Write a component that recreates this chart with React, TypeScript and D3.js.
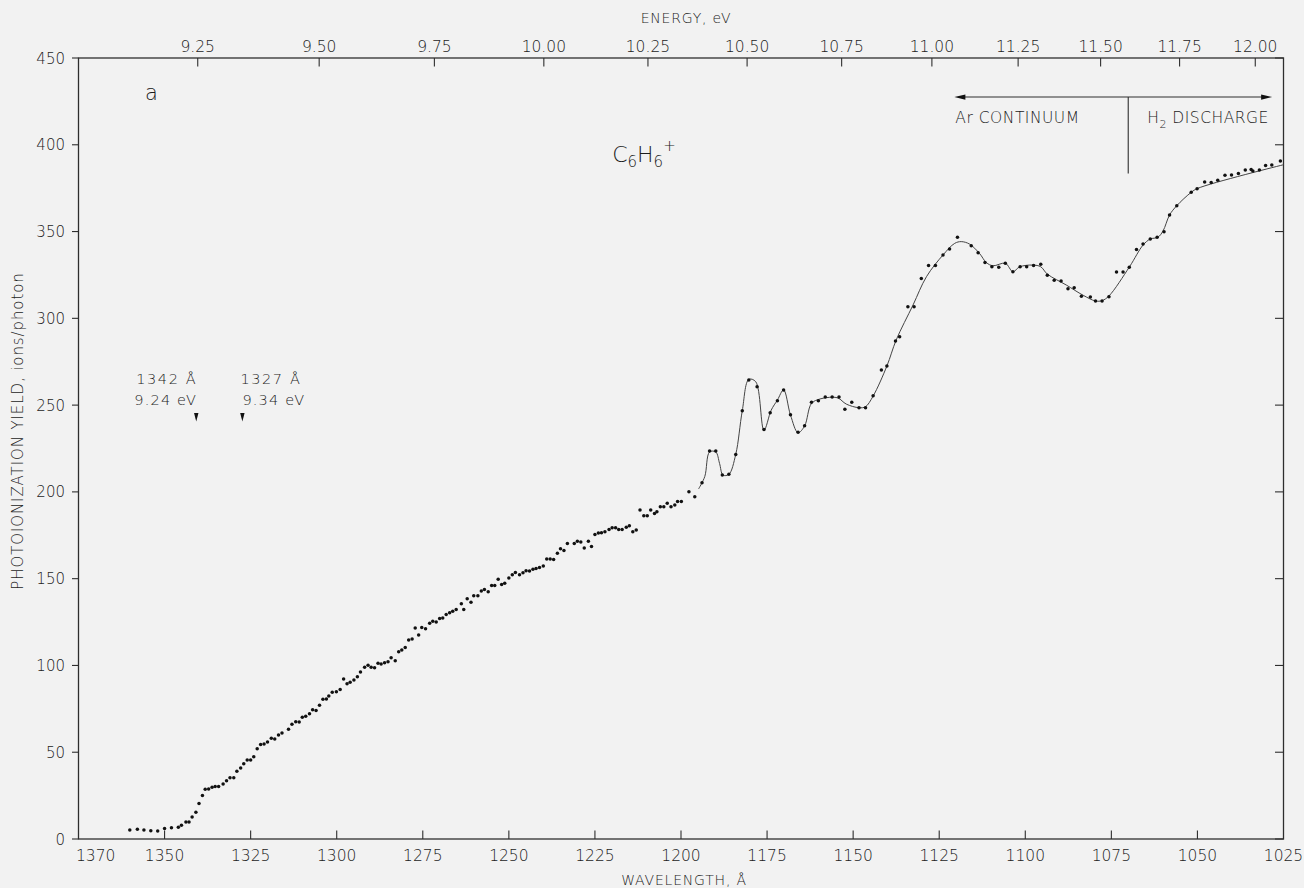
import React from 'react';
import * as d3 from 'd3';

const W = 1304;
const H = 888;
const HC = 12398.4; // eV·Å

const wavelengthLabels = [1370, 1350, 1325, 1300, 1275, 1250, 1225, 1200, 1175, 1150, 1125, 1100, 1075, 1050, 1025];
const wavelengthTicks = [1350, 1325, 1300, 1275, 1250, 1225, 1200, 1175, 1150, 1125, 1100, 1075, 1050];
const yieldTicks = [0, 50, 100, 150, 200, 250, 300, 350, 400, 450];
const energyTicks = [9.25, 9.5, 9.75, 10.0, 10.25, 10.5, 10.75, 11.0, 11.25, 11.5, 11.75, 12.0];

// measured points: [wavelength Å, ions/photon]
const dots: [number, number][] = [
  [1360.1, 5.2], [1357.9, 5.6], [1356.0, 5.2], [1354.0, 4.8], [1352.0, 4.6], [1350.0, 6.0], [1348.0, 6.5],
  [1346.0, 6.7], [1345.1, 7.9], [1343.8, 9.8], [1342.9, 9.8], [1342.0, 12.7], [1340.9, 15.4], [1340.0, 20.4],
  [1339.0, 25.0], [1338.2, 28.6], [1337.2, 28.8], [1336.2, 29.8], [1335.3, 30.2], [1334.3, 30.3], [1333.0, 31.7],
  [1332.0, 33.6], [1331.0, 35.3], [1329.9, 35.3], [1329.0, 39.0], [1327.9, 40.9], [1327.0, 43.4], [1326.0, 45.5],
  [1325.0, 45.5], [1324.1, 47.4], [1323.1, 52.0], [1322.1, 54.5], [1321.1, 54.7], [1320.1, 55.9], [1319.0, 58.0],
  [1318.0, 57.6], [1316.9, 59.9], [1315.9, 61.1], [1314.0, 63.2], [1313.0, 66.1], [1311.9, 67.6], [1310.9, 67.4],
  [1310.0, 70.1], [1309.0, 70.7], [1307.9, 72.2], [1307.0, 74.5], [1306.0, 74.1], [1305.0, 77.0], [1304.0, 80.5],
  [1303.0, 80.7], [1302.3, 82.4], [1301.3, 84.5], [1300.1, 84.9], [1299.0, 86.2], [1298.0, 92.2], [1297.0, 89.5],
  [1296.1, 90.3], [1295.0, 91.6], [1294.0, 93.5], [1293.1, 96.2], [1291.9, 98.9], [1290.9, 100.1], [1290.0, 98.9],
  [1289.0, 98.7], [1288.0, 101.2], [1287.1, 100.8], [1286.1, 101.6], [1285.1, 102.2], [1284.2, 104.5], [1283.0, 102.7],
  [1282.0, 107.9], [1281.1, 108.9], [1280.1, 110.4], [1279.1, 114.7], [1278.1, 115.2], [1277.2, 121.6], [1276.2, 117.5],
  [1275.3, 121.8], [1274.2, 121.2], [1273.0, 124.3], [1272.1, 125.4], [1271.1, 125.0], [1270.1, 127.1], [1269.2, 127.3],
  [1268.2, 129.4], [1267.2, 130.4], [1266.3, 131.2], [1265.3, 132.3], [1263.8, 135.6], [1263.1, 132.3], [1262.1, 138.5],
  [1261.0, 136.4], [1260.2, 140.2], [1259.0, 140.2], [1258.0, 142.9], [1257.1, 143.8], [1256.0, 142.5], [1255.0, 146.0],
  [1254.1, 146.1], [1253.1, 149.6], [1252.1, 146.7], [1251.2, 147.3], [1250.0, 150.4], [1249.0, 152.3], [1248.1, 153.6],
  [1246.9, 152.3], [1245.9, 153.4], [1245.0, 154.6], [1244.0, 154.4], [1243.0, 155.4], [1242.1, 155.9], [1241.1, 156.5],
  [1240.0, 157.3], [1239.0, 161.3], [1238.0, 161.3], [1237.0, 161.1], [1235.9, 164.6], [1235.0, 167.3], [1234.0, 166.3],
  [1233.0, 170.3], [1231.0, 170.3], [1230.1, 171.5], [1229.1, 171.1], [1228.1, 167.7], [1226.9, 171.5], [1226.0, 168.6],
  [1225.0, 175.5], [1224.0, 176.3], [1223.1, 176.5], [1222.1, 177.1], [1220.9, 178.4], [1220.0, 179.4], [1219.0, 179.4],
  [1218.1, 178.4], [1217.1, 178.4], [1215.9, 179.6], [1215.0, 180.5], [1214.0, 177.1], [1213.0, 178.0], [1211.9, 189.6],
  [1210.8, 186.3], [1209.8, 186.3], [1208.8, 189.6], [1207.7, 187.6], [1207.0, 188.6], [1206.0, 191.5], [1205.0, 191.5],
  [1204.0, 193.4], [1202.9, 191.5], [1201.8, 192.4], [1201.0, 194.4], [1199.9, 194.4], [1197.7, 200.1], [1196.0, 197.2],
  [1193.9, 205.3], [1191.7, 223.5], [1189.9, 223.5], [1188.0, 209.7], [1186.1, 210.1], [1184.1, 221.6], [1182.2, 246.8],
  [1180.3, 264.5], [1177.9, 260.6], [1175.9, 236.0], [1174.1, 245.6], [1172.0, 252.5], [1170.2, 258.7], [1168.2, 244.5],
  [1166.0, 234.3], [1164.1, 238.1], [1162.1, 251.6], [1160.1, 252.5], [1158.1, 254.7], [1156.1, 254.7], [1154.1, 254.7],
  [1152.4, 247.6], [1150.4, 251.6], [1148.3, 248.5], [1146.4, 248.5], [1144.2, 255.4], [1141.8, 270.2], [1140.2, 272.5],
  [1137.7, 286.9], [1136.5, 289.4], [1134.1, 306.7], [1132.3, 306.7], [1130.2, 323.0], [1128.1, 330.5], [1126.1, 330.5],
  [1123.9, 336.5], [1122.0, 339.9], [1119.7, 346.7], [1115.7, 341.8], [1113.7, 337.8], [1111.7, 332.1], [1109.7, 329.7],
  [1107.7, 329.5], [1105.8, 331.7], [1103.6, 326.9], [1101.5, 329.7], [1099.6, 329.7], [1097.6, 330.5], [1095.5, 331.1],
  [1093.6, 324.8], [1091.6, 321.9], [1089.6, 321.5], [1087.6, 317.1], [1085.8, 317.6], [1083.7, 312.7], [1081.1, 312.3],
  [1079.6, 310.0], [1077.7, 310.0], [1075.7, 312.5], [1073.5, 326.7], [1071.6, 326.7], [1069.8, 329.4], [1067.7, 339.7],
  [1065.8, 342.8], [1063.7, 345.7], [1061.7, 346.7], [1059.7, 349.9], [1058.1, 359.5], [1056.0, 364.9], [1051.8, 372.6],
  [1050.1, 374.7], [1047.9, 378.5], [1046.0, 378.3], [1044.1, 379.5], [1042.0, 382.4], [1040.1, 382.6], [1038.1, 383.5],
  [1036.1, 385.4], [1034.4, 385.8], [1033.9, 384.9], [1032.0, 385.4], [1030.2, 388.1], [1028.4, 388.3], [1025.9, 390.6],
];

// smooth hand-drawn curve through the structured region
const curve: [number, number][] = [
  [1194.9, 201.7], [1193.1, 208.8], [1191.7, 223.0], [1189.9, 223.0], [1188.8, 216.4], [1187.8, 209.7], [1186.1, 210.1],
  [1184.1, 221.6], [1182.2, 246.8], [1180.3, 264.8], [1178.3, 263.5], [1175.9, 235.6], [1173.8, 247.1], [1172.0, 252.9],
  [1170.2, 258.7], [1168.2, 244.3], [1166.0, 234.1], [1164.1, 238.0], [1162.1, 251.0], [1159.7, 253.5], [1156.8, 254.5],
  [1154.4, 254.1], [1152.0, 250.6], [1148.3, 248.5], [1146.4, 249.1], [1144.2, 255.2], [1140.2, 272.5], [1137.5, 287.5],
  [1132.6, 307.7], [1128.7, 324.0], [1123.9, 336.5], [1120.5, 343.2], [1118.6, 344.2], [1116.2, 342.8], [1113.3, 337.4],
  [1111.3, 332.1], [1109.4, 330.3], [1105.8, 331.7], [1103.6, 326.9], [1101.6, 329.7], [1097.8, 330.7], [1095.5, 329.7],
  [1093.6, 325.5], [1088.1, 319.2], [1083.2, 313.3], [1079.6, 310.0], [1077.7, 310.2], [1075.7, 312.9], [1069.7, 329.8],
  [1065.8, 342.2], [1063.7, 345.7], [1061.5, 346.7], [1060.0, 350.3], [1058.1, 359.5], [1056.0, 364.9], [1051.8, 372.6],
  [1049.9, 374.9], [1025.0, 388.5],
];

// threshold markers: position, labels as printed
const thresholdWavelengths = [1340.8, 1327.4];
const thresholdAngstromLabels = ['1342 Å', '1327 Å'];
const thresholdEnergyLabels = ['9.24 eV', '9.34 eV'];
const thresholdMarkerTop = 245.5;
const thresholdMarkerTip = 240.5;

// light source ranges
const sourceArrowSpan = [1120.6, 1028.3];
const sourceDivider = 1070.1;
const sourceArrowLevel = 427.5;
const sourceDividerBottom = 383.5;

const FONT = '"DejaVu Sans", "Liberation Sans", sans-serif';
const INK = '#2e2e2e';
const TXT = '#1c1c1c';

export default function App() {
  const left = 78.5, right = 1283.5, top = 58, bottom = 839;
  const x = d3.scaleLinear().domain([1375, 1025]).range([left, right]);
  const y = d3.scaleLinear().domain([0, 450]).range([bottom, top]);
  const fmtE = d3.format('.2f');

  const line = d3
    .line<[number, number]>()
    .x((d) => x(d[0]))
    .y((d) => y(d[1]))
    .curve(d3.curveCatmullRom.alpha(0.5));

  const ay = y(sourceArrowLevel);
  const ax0 = x(sourceArrowSpan[0]);
  const ax1 = x(sourceArrowSpan[1]);
  const dvx = x(sourceDivider);

  return (
    <svg
      width={W}
      height={H}
      viewBox={`0 0 ${W} ${H}`}
      style={{ position: 'absolute', left: 0, top: 0, display: 'block' }}
      fontFamily={FONT}
      fontWeight={300}
    >
      <rect x={0} y={0} width={W} height={H} fill="#f2f2f2" />

      {/* frame */}
      <rect x={left} y={top} width={right - left} height={bottom - top} fill="none" stroke={INK} strokeWidth={1.3} />

      {/* bottom axis */}
      {wavelengthTicks.map((t) => (
        <line key={'bt' + t} x1={x(t)} x2={x(t)} y1={bottom} y2={bottom - 8.5} stroke={INK} strokeWidth={1.1} />
      ))}
      {wavelengthLabels.map((t) => (
        <text key={'bl' + t} x={x(t)} y={861} textAnchor="middle" fontSize={15.5} fill={TXT}>
          {t}
        </text>
      ))}
      <text x={684} y={885} textAnchor="middle" fontSize={14} fill={TXT} letterSpacing={0.8}>
        WAVELENGTH, Å
      </text>

      {/* top axis (energy) */}
      {energyTicks.map((e) => (
        <line key={'tt' + e} x1={x(HC / e)} x2={x(HC / e)} y1={top} y2={top + 8.5} stroke={INK} strokeWidth={1.1} />
      ))}
      {energyTicks.map((e) => (
        <text key={'tl' + e} x={x(HC / e)} y={51.5} textAnchor="middle" fontSize={15.5} fill={TXT}>
          {fmtE(e)}
        </text>
      ))}
      <text x={686} y={23} textAnchor="middle" fontSize={14} fill={TXT} letterSpacing={0.8}>
        ENERGY, eV
      </text>

      {/* left & right axis ticks */}
      {yieldTicks.map((t) => (
        <g key={'yl' + t}>
          <line x1={left - 6.5} x2={left} y1={y(t)} y2={y(t)} stroke={INK} strokeWidth={1.1} />
          <line x1={right} x2={right - 8.5} y1={y(t)} y2={y(t)} stroke={INK} strokeWidth={1.1} />
          <text x={65} y={y(t) + 5.5} textAnchor="end" fontSize={15} fill={TXT}>
            {t}
          </text>
        </g>
      ))}
      <text
        transform={`translate(23, 431) rotate(-90)`}
        textAnchor="middle"
        fontSize={15}
        fill={TXT}
        letterSpacing={0.9}
      >
        PHOTOIONIZATION YIELD, ions/photon
      </text>

      {/* curve */}
      <path d={line(curve) || ''} fill="none" stroke="#444" strokeWidth={1} />

      {/* dots */}
      {dots.map((d, i) => (
        <circle key={'d' + i} cx={x(d[0])} cy={y(d[1])} r={1.75} fill="#111" />
      ))}

      {/* panel label and species */}
      <text x={x(1355.7)} y={y(425.8)} fontSize={21} fill={TXT}>
        a
      </text>
      <text x={x(1220)} y={y(390)} fontSize={22} fill={TXT}>
        C
        <tspan fontSize={15} dy={5}>6</tspan>
        <tspan fontSize={22} dy={-5}>H</tspan>
        <tspan fontSize={15} dy={5}>6</tspan>
        <tspan fontSize={15} dy={-16}>+</tspan>
      </text>

      {/* threshold markers */}
      {thresholdWavelengths.map((wl, i) => {
        const mx = x(wl);
        const yt = y(thresholdMarkerTop);
        const yb = y(thresholdMarkerTip);
        const anchor = i === 0 ? 'end' : 'start';
        const tx = i === 0 ? mx + 1 : mx - 2;
        return (
          <g key={'th' + i}>
            <path d={`M${mx - 2.2},${yt} L${mx + 2.2},${yt} L${mx},${yb} Z`} fill="#111" />
            <text x={tx} y={yt - 29} textAnchor={anchor} fontSize={14.5} fill={TXT} letterSpacing={1.6}>
              {thresholdAngstromLabels[i]}
            </text>
            <text x={i === 0 ? mx + 1 : mx} y={yt - 8} textAnchor={anchor} fontSize={14.5} fill={TXT} letterSpacing={1.2}>
              {thresholdEnergyLabels[i]}
            </text>
          </g>
        );
      })}

      {/* light source ranges */}
      <line x1={ax0 + 6} x2={ax1 - 6} y1={ay} y2={ay} stroke={INK} strokeWidth={1.1} />
      <path d={`M${ax0},${ay} L${ax0 + 11},${ay - 2.6} L${ax0 + 11},${ay + 2.6} Z`} fill="#111" />
      <path d={`M${ax1},${ay} L${ax1 - 11},${ay - 2.6} L${ax1 - 11},${ay + 2.6} Z`} fill="#111" />
      <line x1={dvx} x2={dvx} y1={ay} y2={y(sourceDividerBottom)} stroke={INK} strokeWidth={1.1} />
      <text x={ax0 + 1} y={122.5} fontSize={15.5} fill={TXT} letterSpacing={0.5}>
        Ar CONTINUUM
      </text>
      <text x={dvx + 19} y={122.5} fontSize={15.5} fill={TXT} letterSpacing={0.5}>
        H
        <tspan fontSize={11} dy={5}>2</tspan>
        <tspan dy={-5}> DISCHARGE</tspan>
      </text>
    </svg>
  );
}
